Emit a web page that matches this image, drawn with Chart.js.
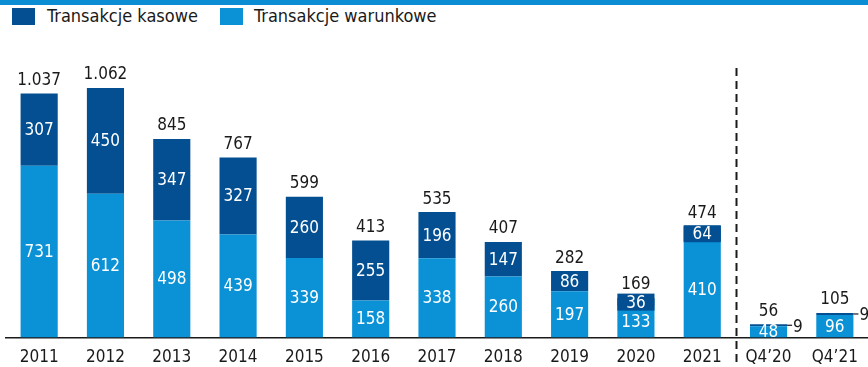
<!DOCTYPE html>
<html>
<head>
<meta charset="utf-8">
<script src="https://cdn.jsdelivr.net/npm/chart.js@4.4.0/dist/chart.umd.min.js"></script>
<style>
  html, body { margin: 0; padding: 0; background: #fff; overflow: hidden; }
  #wrap { position: relative; width: 868px; height: 367px; overflow: hidden; }
  #topline { position: absolute; left: 0; top: 0; width: 868px; height: 5px; background: #0b8cd3; }
  .key { position: absolute; top: 8px; width: 23px; height: 17px; }
  .lbl { position: absolute; top: 5px; font: 18px 'DejaVu Sans Condensed', 'DejaVu Sans', sans-serif; color: #1a1a1a; line-height: 22px; white-space: nowrap; }
  canvas { position: absolute; left: 0; top: 0; }
</style>
</head>
<body>
<div id="wrap">
  <div id="topline"></div>
  <div class="key" style="left:12px;background:#034f91"></div>
  <div class="lbl" style="left:47px">Transakcje kasowe</div>
  <div class="key" style="left:220px;background:#0a91d6"></div>
  <div class="lbl" style="left:254px">Transakcje warunkowe</div>
  <canvas id="wChart" width="868" height="378"></canvas>
</div>
<script>
var categories = ['2011', '2012', '2013', '2014', '2015', '2016', '2017', '2018', '2019', '2020', '2021', 'Q4’20', 'Q4’21'];
var warunkowe = [731, 612, 498, 439, 339, 158, 338, 260, 197, 133, 410, 48, 96];
var kasowe = [307, 450, 347, 327, 260, 255, 196, 147, 86, 36, 64, 9, 9];
var totals = [1037, 1062, 845, 767, 599, 413, 535, 407, 282, 169, 474, 56, 105];

var DARK = '#034f91';
var LIGHT = '#0a91d6';
var FAMILY = "'DejaVu Sans Condensed', 'DejaVu Sans', sans-serif";
var FONT = '17px ' + FAMILY;

function fmt(n) {
    return String(n).replace(/\B(?=(\d{3})+(?!\d))/g, '.');
}

// value labels, totals and the dashed separator before the quarterly bars
var barLabels = {
    id: 'barLabels',
    afterDatasetsDraw: function(chart) {
        var ctx = chart.ctx;
        var low = chart.getDatasetMeta(0).data;
        var top = chart.getDatasetMeta(1).data;
        ctx.save();
        ctx.font = FONT;
        ctx.textBaseline = 'middle';
        for (var i = 0; i < categories.length; i++) {
            var a = low[i], b = top[i];
            // warunkowe
            ctx.fillStyle = '#fff';
            ctx.textAlign = 'center';
            ctx.fillText(warunkowe[i], a.x, (a.y + a.base) / 2 + 1);
            // kasowe
            var h = b.base - b.y;
            var cy = (b.y + b.base) / 2;
            if (i >= 11) {
                var rx = b.x + b.width / 2;
                ctx.strokeStyle = '#1a1a1a';
                ctx.lineWidth = 1.2;
                ctx.beginPath();
                ctx.moveTo(rx, cy);
                ctx.lineTo(rx + 5, cy);
                ctx.stroke();
                ctx.fillStyle = '#1a1a1a';
                ctx.textAlign = 'left';
                ctx.fillText(kasowe[i], rx + 6, cy + 2);
            } else {
                if (h < 17) {
                    ctx.fillStyle = DARK;
                    ctx.fillRect(b.x - b.width / 2, cy - 8.5, b.width, 17);
                }
                ctx.fillStyle = '#fff';
                ctx.textAlign = 'center';
                ctx.fillText(kasowe[i], b.x, cy + 1);
            }
            // total
            ctx.fillStyle = '#1a1a1a';
            ctx.textAlign = 'center';
            ctx.fillText(fmt(totals[i]), b.x, b.y - 13);
        }
        var xs = chart.scales.x;
        var sx = Math.round((xs.getPixelForValue(10) + xs.getPixelForValue(11)) / 2) + 1.5;
        ctx.strokeStyle = '#1a1a1a';
        ctx.lineWidth = 2;
        ctx.setLineDash([8, 5]);
        ctx.beginPath();
        ctx.moveTo(sx, 68);
        ctx.lineTo(sx, 367);
        ctx.stroke();
        ctx.restore();
    }
};

var wc = document.getElementById('wChart').getContext('2d');
var wChart = new Chart(wc, {
    type: 'bar',
    data: {
        labels: categories,
        datasets: [{
            label: 'Transakcje warunkowe',
            data: warunkowe,
            backgroundColor: LIGHT,
            borderWidth: 0
        }, {
            label: 'Transakcje kasowe',
            data: kasowe,
            backgroundColor: DARK,
            borderWidth: 0
        }]
    },
    options: {
        responsive: false,
        animation: false,
        events: [],
        layout: {
            padding: { top: 60, left: 6, right: 0, bottom: 0 }
        },
        datasets: {
            bar: { categoryPercentage: 1, barPercentage: 0.56 }
        },
        plugins: {
            legend: { display: false },
            tooltip: { enabled: false }
        },
        scales: {
            x: {
                stacked: true,
                grid: { display: false, drawTicks: false },
                border: { display: true, color: '#1a1a1a', width: 1.5 },
                ticks: {
                    color: '#1a1a1a',
                    padding: 10,
                    font: { family: FAMILY, size: 17 }
                }
            },
            y: {
                stacked: true,
                display: false,
                min: 0,
                max: 1181
            }
        }
    },
    plugins: [barLabels]
});
</script>
</body>
</html>
